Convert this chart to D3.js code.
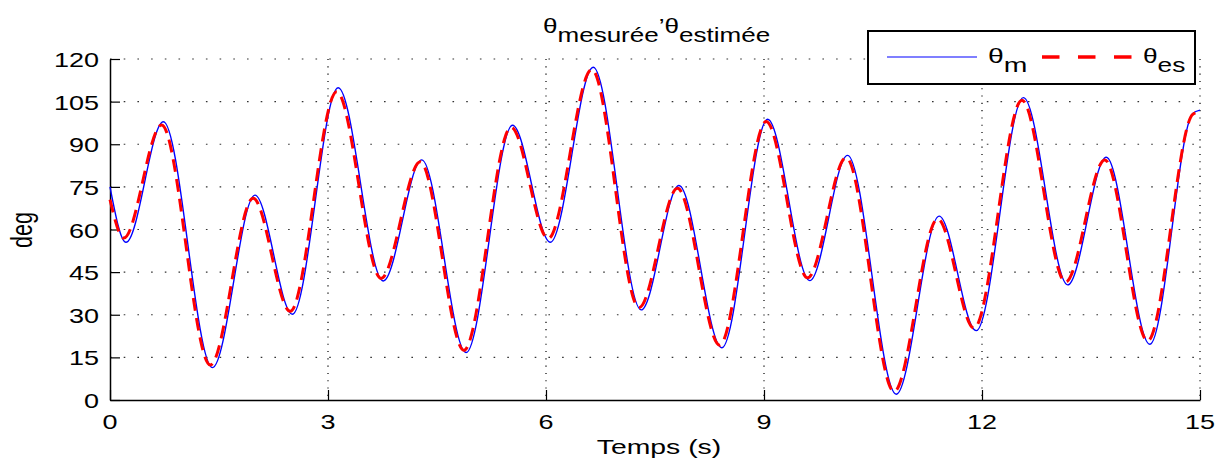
<!DOCTYPE html>
<html>
<head>
<meta charset="utf-8">
<script src="https://cdn.jsdelivr.net/npm/d3@7"></script>
<style>
  html, body { margin: 0; padding: 0; background: #fff; }
  svg { display: block; }
  text { font-family: "Liberation Sans", Arial, sans-serif; fill: #000; }
</style>
</head>
<body>
<svg id="chart" width="1217" height="461"></svg>
<script>
// ---- data ----
const xTicks = [0, 3, 6, 9, 12, 15];
const yTicks = [0, 15, 30, 45, 60, 75, 90, 105, 120];

// theta measured (blue solid): time (s) and angle (deg) at turning points
const tMes = [0, 0.22, 0.734, 1.41, 1.995, 2.51, 3.14, 3.76, 4.29, 4.90, 5.54, 6.06, 6.65, 7.31, 7.83, 8.42, 9.05, 9.63, 10.15, 10.82, 11.41, 11.92, 12.57, 13.18, 13.71, 14.31, 14.9, 15];
const thetaMes = [75, 55.5, 97.9, 11.4, 72.1, 30.2, 109.9, 41.9, 84.5, 16.7, 96.7, 55.5, 117.1, 31.7, 75.5, 18.4, 98.8, 42.0, 86.1, 2.0, 64.7, 24.4, 106.4, 40.5, 85.4, 19.6, 100.8, 102];

// theta estimated (red dashed)
const tEst = [0, 0.19, 0.71, 1.38, 1.97, 2.48, 3.12, 3.73, 4.27, 4.87, 5.52, 6.03, 6.63, 7.28, 7.81, 8.39, 9.03, 9.60, 10.13, 10.79, 11.39, 11.89, 12.55, 13.15, 13.69, 14.28, 14.9, 15];
const thetaEst = [70.5, 57, 96.8, 12.3, 71, 31.2, 108.5, 42.8, 83.8, 17.5, 96, 56.8, 116.3, 32.5, 74.5, 19.3, 98, 43, 85.3, 3, 63.7, 25.3, 105.5, 41.5, 84.5, 20.8, 100.5, 101.5];

const titleMain = "\u03b8";
const titleSub1 = "mesurée";
const titleSub2 = "estimée";
const xLabel = "Temps (s)";
const yLabel = "deg";
const legendLabels = [{main: "\u03b8", sub: "m"}, {main: "\u03b8", sub: "es"}];

// ---- drawing ----
const SX = 1.35; // horizontal stretch of the reference text
const svg = d3.select("#chart");
const x = d3.scaleLinear().domain([0, 15]).range([110, 1200]);
const y = d3.scaleLinear().domain([0, 120]).range([400, 59]);

// grid
const grid = svg.append("g");
grid.selectAll("line.h").data(yTicks.filter(d => d > 0)).join("line")
  .attr("x1", x(0)).attr("x2", x(15))
  .attr("y1", d => y(d)).attr("y2", d => y(d))
  .attr("stroke", "#333").attr("stroke-width", 1.1)
  .attr("stroke-dasharray", "1.6,12.1");
grid.selectAll("line.v").data(xTicks.filter(d => d > 0)).join("line")
  .attr("x1", d => x(d)).attr("x2", d => x(d))
  .attr("y1", y(120)).attr("y2", y(0))
  .attr("stroke", "#333").attr("stroke-width", 1.5)
  .attr("stroke-dasharray", "1.1,6.2");

// axes (ticks inside)
const xAxis = d3.axisBottom(x).tickValues(xTicks).tickSizeInner(-10).tickSizeOuter(0).tickFormat("");
const yAxis = d3.axisLeft(y).tickValues(yTicks).tickSizeInner(-10).tickSizeOuter(0).tickFormat("");
const gx = svg.append("g").attr("transform", `translate(0,${y(0)})`).call(xAxis);
const gy = svg.append("g").attr("transform", `translate(${x(0)},0)`).call(yAxis);
[gx, gy].forEach(g => {
  g.select(".domain").attr("stroke", "#000").attr("stroke-width", 1.5);
  g.selectAll(".tick line").attr("stroke", "#000").attr("stroke-width", 1.2);
});

// tick labels
svg.append("g").selectAll("text").data(xTicks).join("text")
  .attr("transform", d => `translate(${x(d)},429) scale(${SX},1)`)
  .attr("text-anchor", "middle").attr("font-size", 20)
  .text(d => d);
svg.append("g").selectAll("text").data(yTicks).join("text")
  .attr("transform", d => `translate(99,${y(d) + 8}) scale(${SX},1)`)
  .attr("text-anchor", "end").attr("font-size", 20)
  .text(d => d);

// axis labels
svg.append("text").attr("transform", `translate(659,454) scale(${SX},1)`)
  .attr("text-anchor", "middle").attr("font-size", 21).text(xLabel);
svg.append("text").attr("transform", `translate(32,230) scale(${SX},1) rotate(-90)`)
  .attr("text-anchor", "middle").attr("font-size", 21.5).text(yLabel);

// title
const title = svg.append("text").attr("transform", `translate(543,33) scale(1.27,1)`)
  .attr("font-size", 20.5);
title.append("tspan").text(titleMain);
title.append("tspan").attr("dy", 9).text(titleSub1);
title.append("tspan").attr("dy", -9).text("\u2019" + titleMain);
title.append("tspan").attr("dy", 9).text(titleSub2);

// curves
const line = d3.line().x(d => x(d[0])).y(d => y(d[1])).curve(d3.curveMonotoneX);
const mes = tMes.map((t, i) => [t, thetaMes[i]]);
const est = tEst.map((t, i) => [t, thetaEst[i]]);
svg.append("path").datum(mes).attr("d", line)
  .attr("fill", "none").attr("stroke", "#0000ff").attr("stroke-width", 1.4);
svg.append("path").datum(est).attr("d", line)
  .attr("fill", "none").attr("stroke", "#ff0000").attr("stroke-width", 3)
  .attr("stroke-dasharray", "13,7");

// legend
const lg = svg.append("g");
lg.append("rect").attr("x", 868).attr("y", 31).attr("width", 327).attr("height", 53)
  .attr("fill", "#fff").attr("stroke", "#000").attr("stroke-width", 2);
lg.append("line").attr("x1", 887).attr("x2", 977).attr("y1", 57).attr("y2", 57)
  .attr("stroke", "#0000ff").attr("stroke-width", 1.2);
lg.append("line").attr("x1", 1042).attr("x2", 1132).attr("y1", 57).attr("y2", 57)
  .attr("stroke", "#ff0000").attr("stroke-width", 3.3).attr("stroke-dasharray", "17.5,18.5");
[988, 1143].forEach((px, i) => {
  const t = lg.append("text").attr("transform", `translate(${px},63) scale(${i ? 1.25 : SX},1)`).attr("font-size", 21);
  t.append("tspan").text(legendLabels[i].main);
  t.append("tspan").attr("dy", 9).text(legendLabels[i].sub);
});
</script>
</body>
</html>
